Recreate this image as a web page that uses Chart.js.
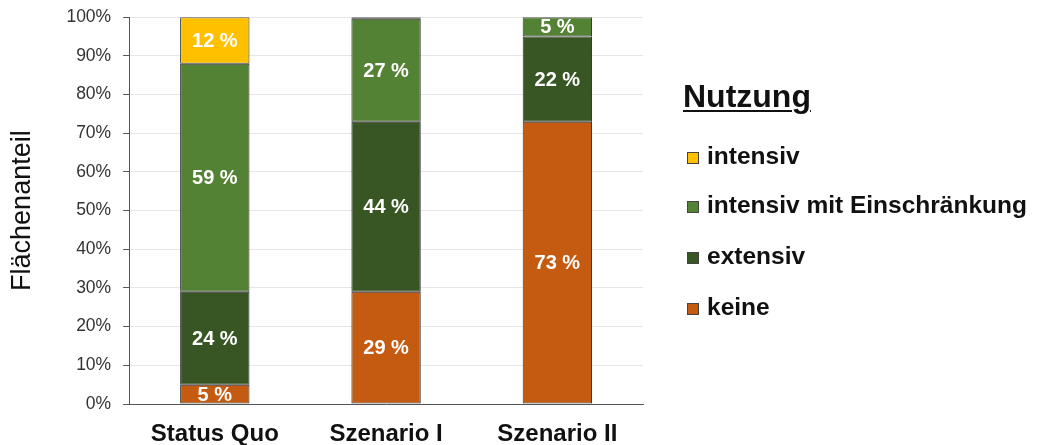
<!DOCTYPE html>
<html><head><meta charset="utf-8">
<script src="https://cdn.jsdelivr.net/npm/chart.js@4/dist/chart.umd.min.js"></script>
<style>
html,body{margin:0;padding:0;background:#fff;}
#wrap{position:relative;width:1037px;height:445px;overflow:hidden;}
canvas{position:absolute;left:0;top:0;}
.lg{position:absolute;font-family:"Liberation Sans",Arial,sans-serif;color:#111;white-space:nowrap;}
.lgt{font-weight:bold;font-size:32px;line-height:36px;text-decoration:underline;text-decoration-thickness:2px;text-underline-offset:3px;}
.lgi{font-weight:bold;font-size:24.5px;line-height:30px;}
.sw{position:absolute;width:10px;height:10px;border:1px solid #444;}
</style></head>
<body><div id="wrap"><canvas id="c" width="1037" height="445"></canvas><div id="legend"></div></div>
<script>
const categories = ["Status Quo", "Szenario I", "Szenario II"];
const seriesNames = ["keine", "extensiv", "intensiv mit Einschränkung", "intensiv"];
const keine = [5, 29, 73];
const extensiv = [24, 44, 22];
const intensivMitEinschraenkung = [59, 26.6, 5];
const intensiv = [12, 0.4, 0];
const yTicks = ["0%","10%","20%","30%","40%","50%","60%","70%","80%","90%","100%"];
const legendTitle = "Nutzung";
const colors = ["#C55A11", "#375623", "#548235", "#FFC000"];
const seriesValues = [keine, extensiv, intensivMitEinschraenkung, intensiv];
const FONT = "'Liberation Sans', Arial, sans-serif";

const datasets = seriesNames.map((n,i)=>({
  label:n, data:seriesValues[i], backgroundColor:colors[i],
  borderColor:"#2e2e2e", borderWidth:1, borderSkipped:false,
  barPercentage:0.81, categoryPercentage:0.5
}));

const labelPlugin = {
  id:"barLabels",
  afterDatasetsDraw(chart){
    const ctx = chart.ctx;
    ctx.save();
    ctx.font = "bold 20px " + FONT;
    ctx.fillStyle = "#ffffff";
    ctx.textAlign = "center";
    ctx.textBaseline = "middle";
    chart.data.datasets.forEach((ds,di)=>{
      const meta = chart.getDatasetMeta(di);
      meta.data.forEach((bar,j)=>{
        const v = ds.data[j];
        if (v < 3) return;
        const y = (bar.y + bar.base)/2;
        ctx.fillText(Math.round(v) + " %", bar.x, y + 1);
      });
    });
    ctx.restore();
  }
};

new Chart(document.getElementById("c"), {
  type:"bar",
  data:{labels:categories, datasets},
  options:{
    responsive:false, animation:false,
    layout:{padding:{left:6,right:394,top:17,bottom:0}},
    plugins:{legend:{display:false}, tooltip:{enabled:false}},
    scales:{
      x:{stacked:true,
        grid:{display:false, drawTicks:false},
        border:{color:"#555", width:1},
        ticks:{color:"#111", font:{family:FONT, size:24, weight:"bold"}, padding:16},
        afterFit(scale){ scale.height = 41; }
      },
      y:{stacked:true, min:0, max:100,
        grid:{color:"#e6e6e6", tickColor:"#555", tickLength:6, drawTicks:true},
        border:{color:"#555", width:1},
        ticks:{stepSize:10, color:"#333", font:{family:FONT, size:17.5, lineHeight:0.6}, padding:12,
          callback:(v)=>yTicks[Math.round(v/10)]},
        title:{display:true, text:"Flächenanteil", color:"#111", font:{family:FONT, size:27}, padding:{top:0,bottom:16}}
      }
    }
  },
  plugins:[labelPlugin]
});

const lg = document.getElementById("legend");
const centers = [157, 206, 257, 308];
let html = '<div class="lg lgt" style="left:683px;top:78px">' + legendTitle + '</div>';
[3,2,1,0].forEach((si,k)=>{
  const c = centers[k];
  html += '<span class="sw" style="left:687px;top:'+(c-5)+'px;background:'+colors[si]+'"></span>';
  html += '<div class="lg lgi" style="left:707px;top:'+(c-16)+'px">'+seriesNames[si]+'</div>';
});
lg.innerHTML = html;
</script></body></html>
